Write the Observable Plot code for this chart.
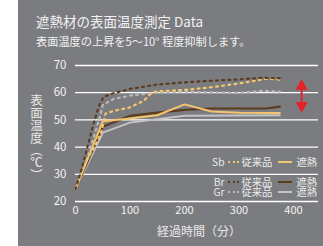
<!DOCTYPE html>
<html><head><meta charset="utf-8">
<script src="https://cdn.jsdelivr.net/npm/d3@7"></script>
<script src="https://cdn.jsdelivr.net/npm/@observablehq/plot@0.6"></script>
<style>
html,body{margin:0;padding:0;background:#fff;}
body{width:323px;height:246px;position:relative;overflow:hidden;font-family:"Noto Sans CJK JP","Noto Sans",sans-serif;}
#panel{position:absolute;left:18px;top:0;width:305px;height:246px;background:#7b7c80;}
#chart{position:absolute;left:0;top:0;}
.t{position:absolute;color:#f2f2f2;white-space:nowrap;}
#title{left:36px;top:11px;font-size:13.5px;}
#sub{left:36px;top:33px;font-size:11.2px;}
#ylab{left:29px;top:94px;font-size:12.5px;writing-mode:vertical-rl;line-height:14px;color:#e8e8e8;}
#xlab{left:157px;top:222px;font-size:12px;color:#e8e8e8;}
.leg{position:absolute;right:6px;height:10px;font-size:10.3px;color:#ececec;white-space:nowrap;line-height:10px;display:flex;align-items:center;}
.leg span{line-height:10px;}
.dots{display:inline-block;width:12px;height:2px;margin:0 2px 0 3px;}
.sol{display:inline-block;width:14px;height:2.5px;margin:0 4px 0 6px;}
</style></head>
<body>
<div id="panel"></div>
<div id="chart"></div>
<div class="t" id="title">遮熱材の表面温度測定 Data</div>
<div class="t" id="sub">表面温度の上昇を5〜10° 程度抑制します。</div>
<div class="t" id="ylab">表面温度（℃）</div>
<div class="t" id="xlab">経過時間（分）</div>
<div id="legend"></div>
<script>
// Series values (time in minutes, temperature in °C)
const sbConvX = [0, 20, 40, 48, 55, 70, 100, 125, 140, 150, 200, 250, 300, 350, 375];
const sbConvY = [24.5, 35, 42, 46, 52.3, 53.3, 54.6, 57, 60, 60.5, 61, 62, 63.4, 65.1, 64.8];
const brConvX = [0, 10, 33, 42, 51, 64, 100, 150, 200, 250, 300, 345, 375];
const brConvY = [24.5, 31, 48.5, 54.6, 58.3, 59.5, 61.4, 63, 63.8, 64.4, 64.9, 65.5, 65.3];
const grConvX = [0, 25, 46, 50, 70, 100, 125, 150, 200, 250, 300, 345, 375];
const grConvY = [24.5, 38, 52, 55.5, 57.7, 58.9, 59.5, 60.1, 60.4, 60.1, 59.9, 60.7, 60.4];
const sbHeatX = [0, 50, 100, 150, 200, 250, 300, 375];
const sbHeatY = [24.5, 49.5, 50.5, 51.7, 55.7, 53.1, 52.6, 52.5];
const brHeatX = [0, 50, 100, 150, 200, 250, 350, 375];
const brHeatY = [24.5, 47.5, 51.5, 52.7, 53.7, 54.2, 54.2, 54.9];
const grHeatX = [0, 50, 100, 200, 375];
const grHeatY = [24.5, 45.3, 49, 51.5, 51.7];
const yTicks = [20, 30, 40, 50, 60, 70];
const xTicks = [0, 100, 200, 300, 400];
const arrowX = [415];
const arrowRange = [54.4, 63.3];
const arrowHeads = [62.4, 55.3];
const legendNames = ["Sb", "Br", "Gr"];
const legendConv = "従来品";
const legendHeat = "遮熱";

const colors = {Sb: "#f4c46f", Br: "#5b3c1f", Gr: "#c4c4c4", GrDot: "#b9b9bb"};
const toPts = (xs, ys) => xs.map((x, i) => ({x, y: ys[i]}));
const dash = "2,4.2";

const plot = Plot.plot({
  width: 323, height: 246,
  marginLeft: 75, marginRight: 5, marginTop: 65, marginBottom: 45,
  style: {background: "transparent", color: "#f2f2f2", fontFamily: "Noto Sans CJK JP, Noto Sans, sans-serif"},
  x: {domain: [0, 446], ticks: xTicks, tickSize: 0, tickPadding: 5, label: null},
  y: {domain: [20, 70], ticks: yTicks, tickSize: 0, tickPadding: 9, label: null},
  marks: [
    Plot.ruleY(yTicks, {stroke: "#ffffff", strokeWidth: 1.3, strokeOpacity: 1}),
    Plot.axisX({ticks: xTicks, tickSize: 0, tickPadding: 5, fontSize: 11, label: null}),
    Plot.axisY({ticks: yTicks, tickSize: 0, tickPadding: 9, fontSize: 11.5, label: null}),
    Plot.line(toPts(grHeatX, grHeatY), {x: "x", y: "y", stroke: colors.Gr, strokeWidth: 2}),
    Plot.line(toPts(brHeatX, brHeatY), {x: "x", y: "y", stroke: colors.Br, strokeWidth: 2.2}),
    Plot.line(toPts(sbHeatX, sbHeatY), {x: "x", y: "y", stroke: colors.Sb, strokeWidth: 2}),
    Plot.line(toPts(grConvX, grConvY), {x: "x", y: "y", stroke: colors.GrDot, strokeWidth: 2.2, strokeDasharray: dash}),
    Plot.line(toPts(sbConvX, sbConvY), {x: "x", y: "y", stroke: colors.Sb, strokeWidth: 2.2, strokeDasharray: dash}),
    Plot.line(toPts(brConvX, brConvY), {x: "x", y: "y", stroke: colors.Br, strokeWidth: 2.2, strokeDasharray: dash}),
    Plot.ruleX(arrowX, {y1: arrowRange[0], y2: arrowRange[1], stroke: "#e4222b", strokeWidth: 2}),
    Plot.dot(arrowHeads.map((y, i) => ({x: arrowX[0], y, rot: i === 0 ? 0 : 180})),
      {x: "x", y: "y", symbol: "triangle", r: 4.6, fill: "#e4222b", stroke: "none", rotate: "rot"})
  ]
});
document.getElementById("chart").append(plot);

// legend inside the plot area
const legendRows = [
  {name: legendNames[0], color: colors.Sb, dot: colors.Sb, top: 157},
  {name: legendNames[1], color: colors.Br, dot: colors.Br, top: 177},
  {name: legendNames[2], color: colors.Gr, dot: colors.GrDot, top: 187}
];
const leg = document.getElementById("legend");
for (const r of legendRows) {
  const row = document.createElement("div");
  row.className = "leg";
  row.style.top = r.top + "px";
  row.innerHTML = `<span>${r.name}</span><span class="dots" style="background:repeating-linear-gradient(90deg, ${r.dot} 0 2px, transparent 2px 4.5px)"></span><span>${legendConv}</span><span class="sol" style="background:${r.color}"></span><span>${legendHeat}</span>`;
  leg.append(row);
}
</script>
</body></html>
